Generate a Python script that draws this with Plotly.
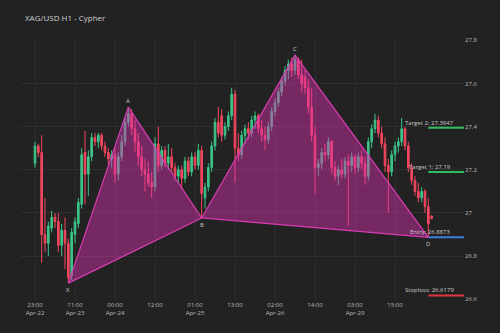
import plotly.graph_objects as go

# ---------------- data ----------------
opens = [27.23, 27.31, 27.28, 26.90, 26.86, 26.93, 26.98, 26.96, 26.85, 26.92,
         26.86, 26.71, 26.90, 26.95, 27.04, 27.28, 27.18, 27.26, 27.35, 27.33,
         27.36, 27.31, 27.28, 27.25, 27.27, 27.18, 27.26, 27.33, 27.42, 27.46,
         27.39, 27.33, 27.26, 27.20, 27.18, 27.14, 27.12, 27.32, 27.22, 27.29,
         27.23, 27.26, 27.21, 27.17, 27.20, 27.16, 27.24, 27.19, 27.26, 27.22,
         27.29, 27.07, 27.12, 27.21, 27.31, 27.42, 27.45, 27.36, 27.40, 27.45,
         27.55, 27.30, 27.27, 27.36, 27.39, 27.37, 27.43, 27.45, 27.39, 27.36,
         27.34, 27.40, 27.47, 27.51, 27.56, 27.61, 27.66, 27.69, 27.66, 27.71,
         27.64, 27.63, 27.58, 27.49, 27.36, 27.21, 27.23, 27.28, 27.27, 27.33,
         27.21, 27.17, 27.20, 27.18, 27.24, 27.22, 27.26, 27.21, 27.26, 27.23,
         27.17, 27.33, 27.39, 27.43, 27.37, 27.32, 27.22, 27.19, 27.27, 27.31,
         27.33, 27.39, 27.31, 27.21, 27.15, 27.10, 27.07, 27.10, 27.03, 26.985]
highs = [27.33, 27.32, 27.36, 27.07, 26.96, 27.01, 27.00, 27.00, 26.95, 26.98,
         26.88, 26.93, 26.98, 27.07, 27.30, 27.38, 27.29, 27.37, 27.37, 27.37,
         27.37, 27.33, 27.30, 27.29, 27.30, 27.28, 27.36, 27.44, 27.49, 27.48,
         27.43, 27.37, 27.31, 27.25, 27.24, 27.19, 27.35, 27.40, 27.31, 27.31,
         27.32, 27.30, 27.23, 27.22, 27.22, 27.26, 27.26, 27.28, 27.28, 27.32,
         27.31, 27.14, 27.23, 27.33, 27.44, 27.49, 27.48, 27.42, 27.47, 27.58,
         27.57, 27.37, 27.38, 27.41, 27.42, 27.45, 27.47, 27.46, 27.43, 27.40,
         27.42, 27.49, 27.53, 27.58, 27.63, 27.68, 27.71, 27.72, 27.731, 27.72,
         27.71, 27.66, 27.62, 27.58, 27.40, 27.25, 27.30, 27.32, 27.35, 27.34,
         27.24, 27.22, 27.25, 27.26, 27.27, 27.28, 27.27, 27.28, 27.29, 27.26,
         27.35, 27.41, 27.46, 27.45, 27.40, 27.35, 27.25, 27.29, 27.33, 27.35,
         27.44, 27.40, 27.33, 27.23, 27.17, 27.14, 27.12, 27.11, 27.07, 26.99]
lows = [27.21, 27.26, 26.77, 26.82, 26.80, 26.91, 26.93, 26.82, 26.80, 26.74,
        26.675, 26.69, 26.86, 26.93, 27.02, 27.04, 27.08, 27.24, 27.31, 27.30,
        27.29, 27.26, 27.22, 27.21, 27.14, 27.15, 27.24, 27.31, 27.40, 27.36,
        27.28, 27.22, 27.17, 27.10, 27.12, 27.07, 27.10, 27.19, 27.20, 27.21,
        27.20, 27.19, 27.15, 27.14, 27.11, 27.14, 27.17, 27.17, 27.20, 27.20,
        26.977, 27.02, 27.10, 27.19, 27.29, 27.35, 27.33, 27.34, 27.38, 27.43,
        27.14, 27.24, 27.25, 27.32, 27.34, 27.35, 27.39, 27.37, 27.33, 27.29,
        27.32, 27.38, 27.45, 27.49, 27.54, 27.59, 27.62, 27.63, 27.64, 27.62,
        27.56, 27.55, 27.46, 27.33, 27.09, 27.17, 27.20, 27.24, 27.25, 27.18,
        27.15, 27.13, 27.16, 27.16, 26.94, 27.19, 27.18, 27.19, 27.20, 27.13,
        27.15, 27.30, 27.37, 27.35, 27.30, 27.19, 27.00, 27.17, 27.24, 27.28,
        27.31, 27.29, 27.19, 27.13, 27.08, 27.05, 27.05, 27.00, 26.8873, 26.97]
closes = [27.31, 27.28, 26.90, 26.86, 26.94, 26.98, 26.96, 26.85, 26.92, 26.86,
          26.70, 26.91, 26.96, 27.05, 27.27, 27.18, 27.26, 27.35, 27.33, 27.36,
          27.31, 27.28, 27.25, 27.27, 27.18, 27.26, 27.33, 27.42, 27.46, 27.39,
          27.33, 27.26, 27.20, 27.18, 27.14, 27.12, 27.32, 27.22, 27.29, 27.23,
          27.26, 27.21, 27.17, 27.20, 27.16, 27.24, 27.19, 27.26, 27.22, 27.29,
          27.09, 27.12, 27.21, 27.31, 27.42, 27.37, 27.36, 27.40, 27.45, 27.55,
          27.30, 27.27, 27.36, 27.39, 27.37, 27.43, 27.45, 27.39, 27.36, 27.34,
          27.40, 27.47, 27.51, 27.56, 27.61, 27.66, 27.69, 27.66, 27.71, 27.64,
          27.60, 27.58, 27.49, 27.36, 27.21, 27.23, 27.28, 27.27, 27.33, 27.21,
          27.17, 27.20, 27.18, 27.24, 27.22, 27.26, 27.21, 27.26, 27.23, 27.17,
          27.33, 27.39, 27.43, 27.37, 27.32, 27.22, 27.19, 27.27, 27.31, 27.33,
          27.39, 27.31, 27.21, 27.15, 27.10, 27.07, 27.10, 27.03, 26.95, 26.975]

tick_positions = [0, 12, 24, 36, 48, 60, 72, 84, 96, 108]
tick_labels = ["23:00<br>Apr-22", "11:00<br>Apr-23", "00:00<br>Apr-24", "12:00",
               "01:00<br>Apr-25", "13:00", "02:00<br>Apr-26", "14:00",
               "03:00<br>Apr-29", "15:00"]

# Cypher pattern points
pattern_names = ["X", "A", "B", "C", "D"]
pattern_idx = [10, 28, 50, 78, 118]
pattern_price = [26.675, 27.49, 26.977, 27.731, 26.8873]

level_names = ["Target 2", "Target 1", "Entry", "Stoploss"]
level_values = [27.3947, 27.19, 26.8873, 26.6179]
level_colors = ["#2fbf5f", "#2fbf5f", "#3b7fd6", "#e0363f"]

x = list(range(len(closes)))
x_range = [-4.5, 128.7]

fig = go.Figure()
fig.add_trace(go.Candlestick(
    x=x, open=opens, high=highs, low=lows, close=closes,
    increasing=dict(line=dict(color="#3cc488", width=1), fillcolor="#3cc488"),
    decreasing=dict(line=dict(color="#f2475f", width=1), fillcolor="#f2475f"),
    showlegend=False, hoverinfo="skip"))

fill_col = "rgba(222,48,178,0.45)"
edge_col = "#d93db3"
tri1 = [0, 1, 2, 0]
tri2 = [2, 3, 4, 2]
for tri in (tri1, tri2):
    fig.add_trace(go.Scatter(
        x=[pattern_idx[i] for i in tri], y=[pattern_price[i] for i in tri],
        mode="lines", fill="toself", fillcolor=fill_col,
        line=dict(color=edge_col, width=1.2), showlegend=False, hoverinfo="skip"))

label_shift = [-7, 6, -7, 6, -7]
for n, xi, p, s in zip(pattern_names, pattern_idx, pattern_price, label_shift):
    fig.add_annotation(x=xi, y=p, text=n, showarrow=False, yshift=s,
                       font=dict(size=6, color="#cccccc"))

for name, val, col in zip(level_names, level_values, level_colors):
    fig.add_shape(type="line", x0=pattern_idx[4], x1=x_range[1], y0=val, y1=val,
                  xref="x", yref="y", line=dict(color=col, width=2))
    fig.add_annotation(x=pattern_idx[4] + 0.4, y=val, text=f"{name}: {val:g}",
                       showarrow=False, yshift=5, xanchor="center",
                       font=dict(size=6, color="#cccccc"))

bg = "#222222"
grid = "#2e2e2e"
fig.update_layout(
    width=500, height=333,
    paper_bgcolor=bg, plot_bgcolor=bg,
    margin=dict(l=20, r=36, t=40, b=33),
    font=dict(family="Open Sans, sans-serif", color="#bbbbbb", size=6),
    title=dict(text="XAG/USD H1 - Cypher", x=25 / 500, xref="container",
               xanchor="left", y=1 - 18 / 333, yref="container", yanchor="middle",
               font=dict(size=8, color="#d0d0d0")),
    showlegend=False,
    xaxis=dict(range=x_range, tickmode="array", tickvals=tick_positions,
               ticktext=tick_labels, showgrid=True, gridcolor=grid,
               zeroline=False, showline=False, rangeslider=dict(visible=False),
               tickfont=dict(size=6, color="#bbbbbb")),
    yaxis=dict(range=[26.597, 27.801], side="right", dtick=0.2, tick0=26.6,
               showgrid=True, gridcolor=grid, zeroline=False, showline=False,
               tickfont=dict(size=6, color="#bbbbbb")),
)

fig.write_html("out.html")
